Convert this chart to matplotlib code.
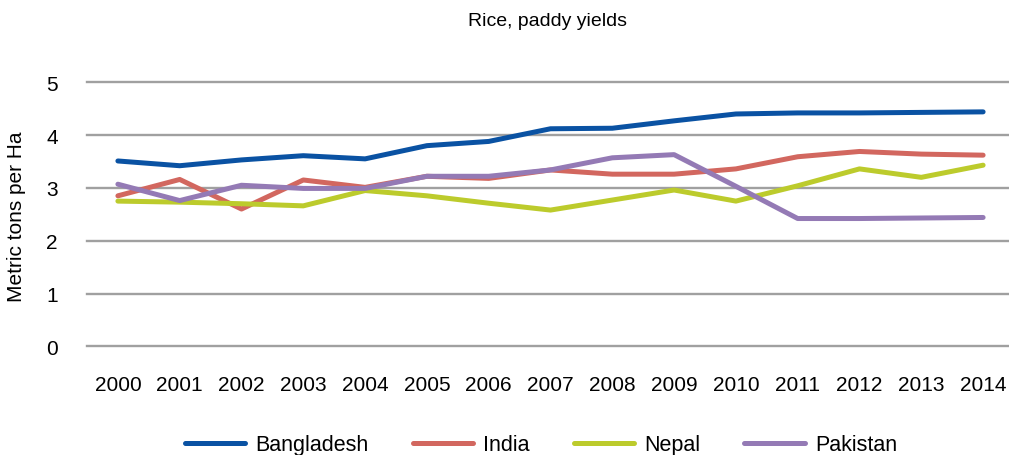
import matplotlib
matplotlib.use("Agg")
import matplotlib.pyplot as plt

years = [str(y) for y in range(2000, 2015)]
bangladesh = [3.51, 3.42, 3.53, 3.61, 3.55, 3.80, 3.88, 4.12, 4.13, 4.27, 4.40, 4.42, 4.42, 4.43, 4.44]
india = [2.85, 3.16, 2.60, 3.15, 3.01, 3.22, 3.18, 3.34, 3.26, 3.26, 3.36, 3.59, 3.69, 3.64, 3.62]
nepal = [2.75, 2.73, 2.70, 2.66, 2.95, 2.85, 2.71, 2.58, 2.77, 2.96, 2.75, 3.04, 3.36, 3.20, 3.43]
pakistan = [3.07, 2.76, 3.05, 2.99, 2.99, 3.22, 3.22, 3.34, 3.57, 3.63, 3.03, 2.42, 2.42, 2.43, 2.44]

series = [
    ("Bangladesh", bangladesh, "#0a52a3"),
    ("India", india, "#d2675f"),
    ("Nepal", nepal, "#bccb2c"),
    ("Pakistan", pakistan, "#947ab5"),
]
y_ticks = [0, 1, 2, 3, 4, 5]

plt.rcParams["font.family"] = ["Liberation Sans", "DejaVu Sans"]

W, H = 1009, 456
fig = plt.figure(figsize=(W / 100, H / 100), dpi=100)
left, right = 87, 1014
bottom, top = 347.3, 83.3
ax = fig.add_axes([left / W, 1 - bottom / H, (right - left) / W, (bottom - top) / H])

x = list(range(len(years)))
for t in y_ticks:
    ax.axhline(t, color="#a0a0a0", lw=1.7, zorder=1, clip_on=False)

for name, vals, col in series:
    ax.plot(x, vals, color=col, lw=3.6, solid_capstyle="round",
            solid_joinstyle="round", label=name, zorder=3)

ax.set_xlim(-0.5, len(years) - 0.5)
ax.set_ylim(0, 5)
ax.set_xticks(x)
ax.set_xticklabels(years, fontsize=15)
ax.set_yticks(y_ticks)
ax.set_yticklabels([str(t) for t in y_ticks], fontsize=15)
ax.tick_params(length=0)
ax.tick_params(axis="x", pad=21)
ax.tick_params(axis="y", pad=21)
for s in ax.spines.values():
    s.set_visible(False)

# y label placed by hand, centred at x=17px
fig.text(17 / W, 1 - 217 / H, "Metric tons per Ha", rotation=90,
         ha="center", va="center", fontsize=15)

fig.text(548 / W, 1 - 22 / H, "Rice, paddy yields", ha="center", va="center", fontsize=14)

leg = fig.legend(loc="center", bbox_to_anchor=(541 / W, 1 - 446 / H), ncol=4,
                 frameon=False, fontsize=15.5, handlelength=2.8, handletextpad=0.47,
                 columnspacing=2.05, borderpad=0)
for h in leg.get_lines():
    h.set_linewidth(3.6)
    h.set_solid_capstyle("round")

fig.savefig("out.png", dpi=100)
